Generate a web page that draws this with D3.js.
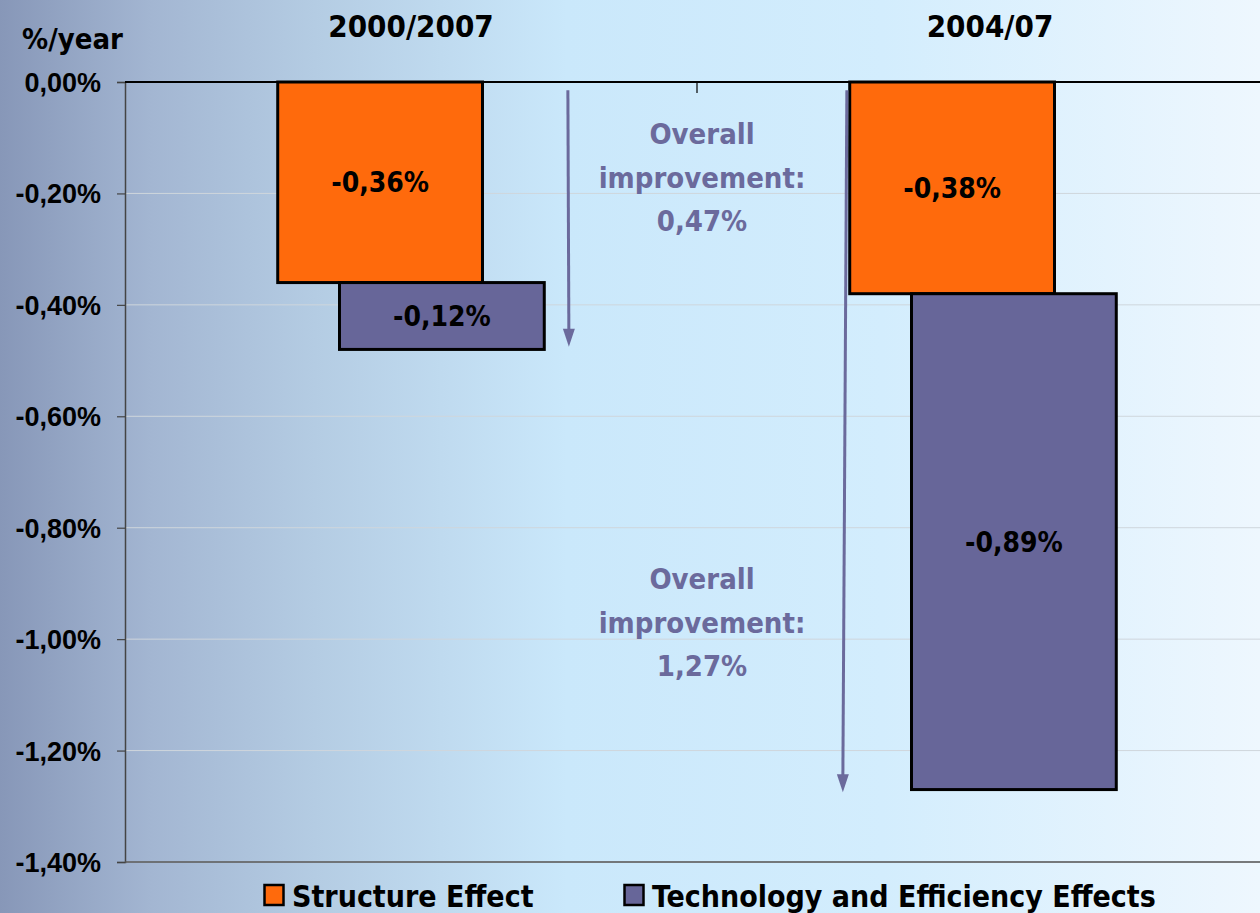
<!DOCTYPE html>
<html><head><meta charset="utf-8">
<script src="https://cdn.jsdelivr.net/npm/d3@7"></script>
<style>
html,body{margin:0;padding:0;overflow:hidden;}
svg{display:block;font-family:"DejaVu Sans Condensed","DejaVu Sans",sans-serif;font-stretch:condensed;}
</style></head>
<body><svg id="c" width="1260" height="913"></svg>
<script>
const categories = ["2000/2007", "2004/07"];
const seriesNames = ["Structure Effect", "Technology and Efficiency Effects"];
const structureEffect = [-0.36, -0.38];
const technologyEffect = [-0.12, -0.89];
const overallImprovement = [0.47, 1.27];
const yTicks = [0, -0.2, -0.4, -0.6, -0.8, -1.0, -1.2, -1.4];
const yLabel = "%/year";

const colors = ["#ff6a0c", "#676699"];
const W = 1260, H = 913;
const svg = d3.select("#c");

// background gradient
const defs = svg.append("defs");
const g = defs.append("linearGradient").attr("id","bg").attr("x1","0").attr("x2","1").attr("y1","0").attr("y2","0");
[[0,"#8797b8"],[0.12,"#a3b6d2"],[0.25,"#b4cce3"],[0.45,"#cae8fb"],[0.7,"#d3edfd"],[1,"#eef7fe"]]
  .forEach(([o,c])=>g.append("stop").attr("offset",o).attr("stop-color",c));
svg.append("rect").attr("width",W).attr("height",H).attr("fill","url(#bg)");

const m = {l:125, t:82, r:1269, b:862};
const x = d3.scaleBand().domain(categories).range([m.l, m.r]).padding(0);
const y = d3.scaleLinear().domain([0, -1.4]).range([m.t, m.b]);
const fmt = v => d3.format(".2f")(v).replace(".", ",").replace("−","-") + "%";

// gridlines
svg.append("g").selectAll("line").data(yTicks.slice(1)).join("line")
  .attr("x1", m.l).attr("x2", W).attr("y1", d=>y(d)).attr("y2", d=>y(d))
  .attr("stroke", "#cfd6dc").attr("stroke-width", 1);

// y axis
const yAxis = svg.append("g").attr("transform",`translate(${m.l},0)`)
  .call(d3.axisLeft(y).tickValues(yTicks).tickSize(8).tickFormat(fmt));
yAxis.select(".domain").attr("stroke","#444").attr("stroke-width",1.5);
yAxis.selectAll(".tick line").attr("stroke","#444").attr("stroke-width",1.2);
yAxis.selectAll(".tick text").attr("font-size",27).attr("font-weight","bold").attr("fill","#000")
  .attr("x",-24).attr("dy","0.35em").style("font-family","inherit");

// bottom line
svg.append("line").attr("x1",m.l).attr("x2",W).attr("y1",m.b).attr("y2",m.b)
  .attr("stroke","#555").attr("stroke-width",1.5);

// bars
const bw = x.bandwidth();
const barW = bw * 0.358;
const shift = bw * 0.054;
const stacks = categories.map((c,i)=>{
  const s0 = 0, s1 = structureEffect[i], s2 = structureEffect[i] + technologyEffect[i];
  return [
    {cat:c, k:0, y0:s0, y1:s1, v:structureEffect[i]},
    {cat:c, k:1, y0:s1, y1:s2, v:technologyEffect[i]}
  ];
}).flat();

const bars = svg.append("g");
bars.selectAll("rect").data(stacks).join("rect")
  .attr("x", d => x(d.cat) + bw/2 + (d.k===0 ? -shift : shift) - barW/2)
  .attr("y", d => y(d.y0))
  .attr("width", barW)
  .attr("height", d => y(d.y1) - y(d.y0))
  .attr("fill", d => colors[d.k])
  .attr("stroke", "#000").attr("stroke-width", 3);

bars.selectAll("text").data(stacks).join("text")
  .attr("x", d => x(d.cat) + bw/2 + (d.k===0 ? -shift : shift))
  .attr("y", d => (y(d.y0)+y(d.y1))/2)
  .attr("dy","0.36em").attr("text-anchor","middle")
  .attr("font-size",28).attr("font-weight","bold").attr("fill","#000")
  .text(d => fmt(d.v));

// top axis (categories)
svg.append("line").attr("x1",m.l).attr("x2",W).attr("y1",m.t).attr("y2",m.t)
  .attr("stroke","#000").attr("stroke-width",2);
svg.append("line").attr("x1",x(categories[1])).attr("x2",x(categories[1]))
  .attr("y1",m.t).attr("y2",m.t+11).attr("stroke","#000").attr("stroke-width",1.2);

svg.append("g").selectAll("text").data(categories).join("text")
  .attr("x",(d,i)=> x(d)+bw/2 + (i===1?7:0)).attr("y",37)
  .attr("text-anchor","middle").attr("font-size",31).attr("font-weight","bold").attr("fill","#000")
  .text(d=>d);

svg.append("text").attr("x",22).attr("y",49).attr("font-size",29).attr("font-weight","bold")
  .attr("fill","#000").text(yLabel);

// annotations: arrows + texts
const annColor = "#6b6a9c";
const arrowX = [x(categories[0]) + bw*0.776, x(categories[1]) + bw*0.255];
const textY = [133, 578];
overallImprovement.forEach((v,i)=>{
  const ax = arrowX[i];
  const yStart = y(-0.015), yEnd = y(-v - 0.005);
  svg.append("line").attr("x1",ax + (i===1?4:-1)).attr("x2",ax).attr("y1",yStart).attr("y2",yEnd-14)
    .attr("stroke",annColor).attr("stroke-width",3);
  svg.append("path").attr("d",`M${ax-6},${yEnd-18} L${ax+6},${yEnd-18} L${ax},${yEnd} Z`).attr("fill",annColor);
  const t = svg.append("text").attr("x",702).attr("y",textY[i]+11).attr("text-anchor","middle")
    .attr("font-size",29).attr("font-weight","bold").attr("fill",annColor);
  ["Overall","improvement:", fmt(v)].forEach((s,j)=>{
    t.append("tspan").attr("x",702).attr("dy", j===0?0:43.5).text(s);
  });
});

// legend
const leg = svg.append("g");
const legX = [263, 623];
seriesNames.forEach((s,i)=>{
  leg.append("rect").attr("x",legX[i]+1.5).attr("y",885).attr("width",19).attr("height",20)
    .attr("fill",colors[i]).attr("stroke","#000").attr("stroke-width",2.5);
  leg.append("text").attr("x",legX[i]+29).attr("y",907).attr("font-size",30).attr("font-weight","bold")
    .attr("fill","#000").text(s);
});
</script></body></html>
